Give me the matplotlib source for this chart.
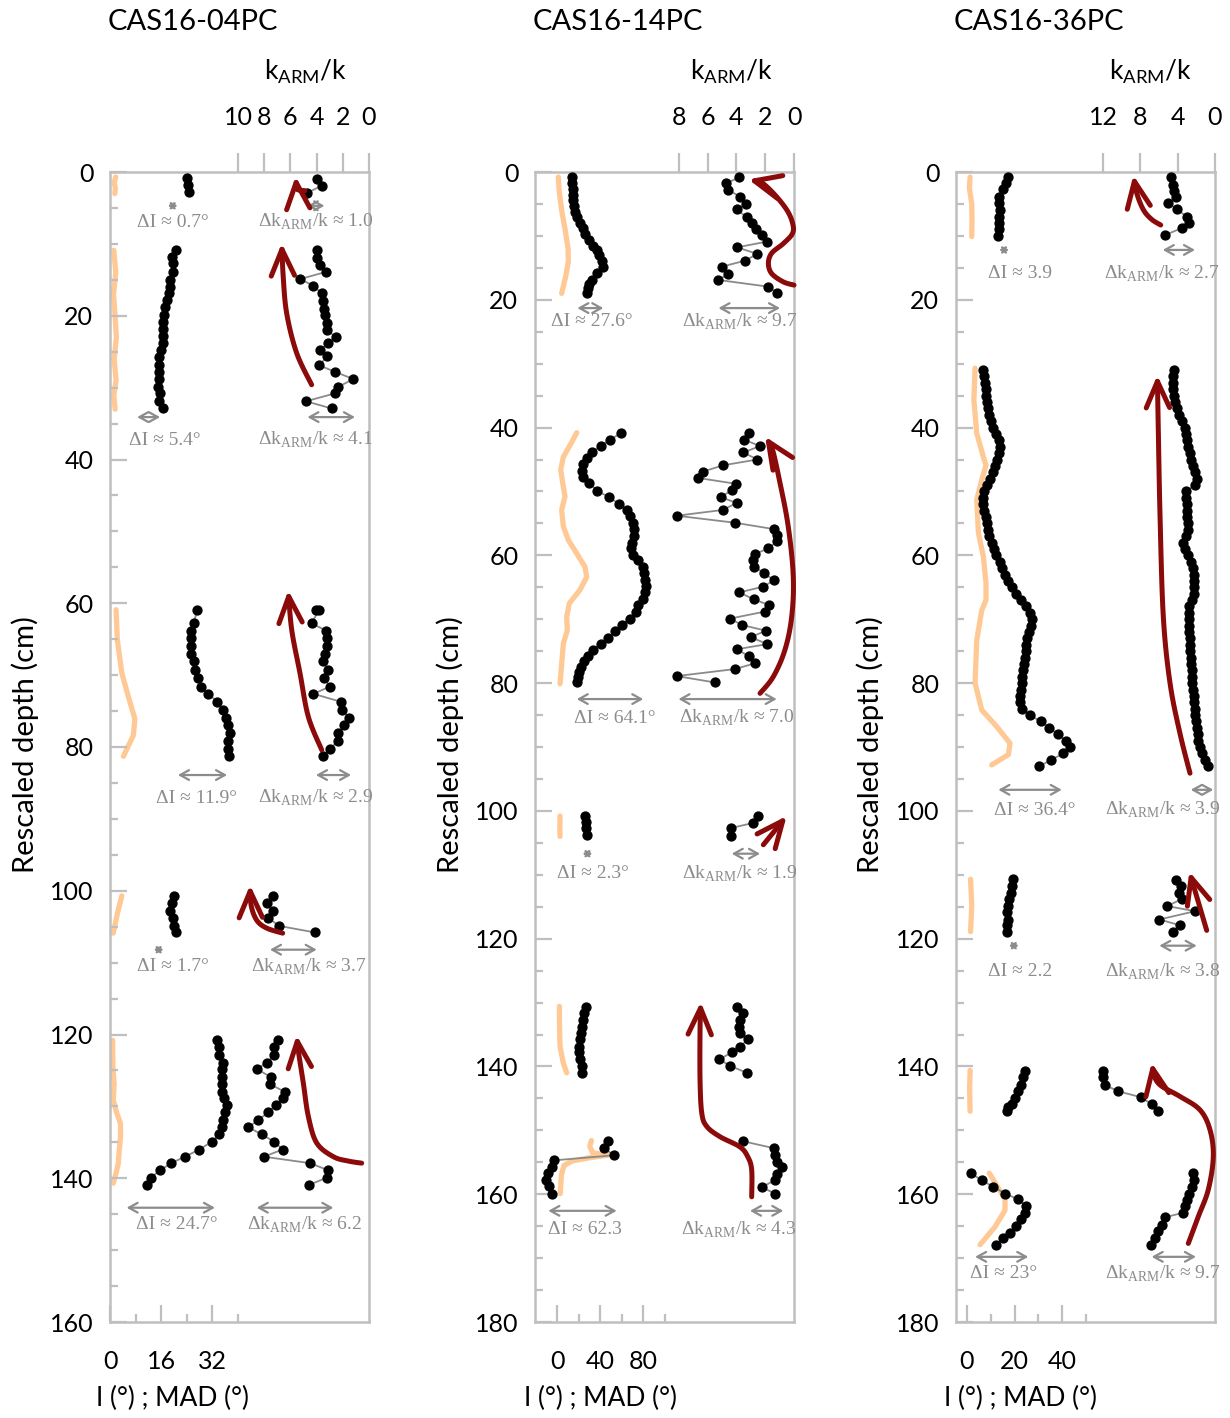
import numpy as np
import matplotlib
matplotlib.use("Agg")
import matplotlib.pyplot as plt
from matplotlib.patches import FancyArrowPatch
from matplotlib.path import Path

plt.rcParams['font.family'] = ['Lato', 'DejaVu Sans']

# ======================= DATA =======================
cores = ["CAS16-04PC", "CAS16-14PC", "CAS16-36PC"]

# ---------- CAS16-04PC ----------
c04_s1_d = [0.8, 1.8, 2.8]
c04_s1_inc = [24.1, 24.5, 24.8]
c04_s1_kd = [1.0, 1.9, 2.9]
c04_s1_k = [4.0, 3.6, 4.7]
c04_s1_madd = [0.7, 1.5, 2.3, 3.0]
c04_s1_mad = [1.8, 1.3, 1.7, 1.5]

c04_s2_d = [10.9, 11.8, 12.7, 13.9, 15.0, 16.0, 16.9, 17.8, 18.8, 19.9, 20.8, 21.9,
            22.8, 23.8, 24.8, 25.8, 26.9, 27.8, 28.8, 29.9, 30.8, 31.9, 32.9]
c04_s2_inc = [20.6, 19.5, 19.6, 19.9, 18.8, 18.8, 18.5, 18.0, 17.2, 16.9, 16.7, 16.7,
              16.7, 16.5, 16.0, 15.5, 15.4, 15.4, 15.4, 15.2, 15.7, 15.5, 16.5]
c04_s2_kd = [10.9, 11.9, 13.0, 13.9, 14.9, 15.8, 16.9, 17.9, 19.0, 19.9, 21.0, 22.0,
             23.0, 23.8, 24.8, 25.6, 26.9, 27.8, 28.8, 29.9, 30.8, 31.9, 32.9]
c04_s2_k = [4.0, 4.0, 3.74, 3.28, 5.27, 4.25, 3.61, 3.49, 3.41, 3.36, 3.23, 3.18,
            2.54, 3.1, 3.74, 3.18, 3.79, 2.6, 1.2, 2.34, 2.6, 4.81, 2.85]
c04_s2_madd = [10.9, 14.0, 17.0, 20.0, 23.0, 26.0, 29.0, 31.0, 33.0]
c04_s2_mad = [1.2, 1.8, 1.1, 1.6, 2.0, 1.3, 1.9, 1.2, 1.6]

c04_s3_d = [60.9, 62.8, 63.8, 64.9, 65.9, 67.0, 68.1, 69.3, 70.4, 71.6, 72.6, 73.7,
            74.8, 75.9, 76.9, 78.1, 79.2, 80.3, 81.3]
c04_s3_inc = [27.2, 26.4, 25.3, 25.3, 25.4, 25.4, 26.4, 26.8, 27.5, 28.5, 30.8, 33.6,
              35.3, 36.4, 37.1, 37.6, 37.1, 37.1, 37.4]
c04_s3_kd = [60.9, 61.0, 62.8, 63.8, 64.8, 65.9, 67.0, 68.1, 69.3, 70.4, 71.6, 72.6,
             73.7, 74.8, 75.9, 76.9, 78.1, 79.2, 80.3, 81.3]
c04_s3_k = [4.05, 3.85, 4.38, 3.28, 3.18, 3.23, 3.36, 3.49, 3.1, 3.44, 2.98, 4.25,
            2.16, 2.09, 1.5, 1.88, 2.34, 2.4, 2.98, 3.54]
c04_s3_madd = [60.9, 65.1, 69.7, 72.9, 76.1, 78.4, 81.3]
c04_s3_mad = [1.9, 2.3, 3.7, 5.7, 7.8, 7.3, 4.2]

c04_s4_d = [100.7, 101.7, 102.8, 103.8, 104.9, 105.8]
c04_s4_inc = [20.1, 19.3, 18.8, 19.6, 20.1, 20.7]
c04_s4_k = [7.3, 7.8, 7.35, 7.68, 6.85, 4.12]
c04_s4_madd = [100.7, 103.0, 105.9]
c04_s4_mad = [3.7, 2.4, 1.0]

c04_s5_d = [120.8, 121.8, 122.8, 123.9, 124.8, 125.9, 126.9, 128.0, 128.9, 129.8, 130.8,
            131.9, 132.9, 133.9, 134.9, 136.0, 137.0, 137.9, 138.9, 139.9, 140.9]
c04_s5_inc = [33.6, 34.3, 34.3, 35.3, 35.1, 35.1, 35.1, 35.1, 35.7, 36.6, 36.1,
              35.3, 35.0, 34.2, 32.0, 28.0, 23.5, 19.2, 15.7, 12.8, 11.5]
c04_s5_k = [6.97, 7.25, 7.25, 7.76, 8.57, 7.51, 7.56, 6.41, 6.59, 7.1, 7.68,
            8.45, 9.21, 8.19, 7.25, 6.59, 8.02, 4.5, 3.1, 3.18, 4.55]
c04_s5_madd = [120.8, 124.5, 127.0, 129.1, 130.9, 132.4, 134.2, 136.1, 137.9, 139.3, 140.7]
c04_s5_mad = [0.83, 0.9, 1.3, 1.0, 2.1, 3.3, 3.3, 2.9, 2.6, 1.9, 1.0]

# ---------- CAS16-14PC ----------
c14_s1_d = [0.83, 1.77, 2.71, 3.6, 4.38, 5.32, 6.21, 7.1, 8.04, 8.82, 9.7, 10.64,
            11.53, 12.2, 13.0, 13.88, 14.82, 15.86, 16.9, 17.58, 18.2, 18.89]
c14_s1_inc = [13.6, 13.6, 14.6, 14.6, 15.2, 15.8, 16.7, 18.9, 21.4, 23.9, 26.0, 30.1,
              33.8, 36.9, 39.4, 41.6, 43.1, 37.4, 33.0, 30.1, 29.0, 27.6]
c14_s1_kd = [0.83, 1.77, 2.82, 3.86, 5.0, 5.84, 7.1, 8.04, 8.98, 9.86, 10.9, 11.79,
             12.83, 13.88, 14.82, 15.96, 16.9, 17.95, 18.89]
c14_s1_k = [3.8, 4.72, 4.56, 3.75, 3.33, 3.98, 3.29, 2.94, 2.64, 2.24, 1.9, 3.94,
            2.55, 3.4, 5.02, 4.56, 5.25, 1.78, 1.2]
c14_s1_madd = [0.8, 3.0, 6.0, 9.0, 12.0, 14.0, 16.0, 19.0]
c14_s1_mad = [1.2, 2.0, 4.3, 7.5, 10.3, 10.5, 8.5, 4.3]

c14_s2_d = [40.9, 41.9, 42.9, 43.9, 44.8, 45.7, 46.8, 47.8, 48.7, 49.9, 50.9, 52.0,
            52.9, 53.8, 54.9, 55.9, 57.0, 58.0, 58.9, 59.9, 60.8, 61.8, 62.8, 63.9,
            64.8, 65.8, 66.9, 67.8, 68.8, 69.9, 70.9, 71.9, 72.9, 73.9, 74.8, 75.8,
            76.6, 77.5, 78.3, 79.0, 79.9]
c14_s2_inc = [59.2, 49.3, 40.6, 32.2, 27.6, 24.5, 22.9, 24.5, 30.1, 37.5, 48.4, 58.0,
              64.8, 67.9, 70.4, 71.6, 71.9, 69.5, 68.8, 71.0, 75.0, 80.3, 80.9, 81.9,
              82.8, 81.9, 80.3, 75.6, 73.5, 67.9, 60.2, 54.0, 47.1, 40.6, 33.2, 29.1,
              25.4, 22.0, 20.8, 19.8, 18.3]
c14_s2_kd = [40.8, 41.9, 42.9, 43.9, 45.0, 45.9, 46.9, 47.9, 48.8, 49.8, 50.9, 51.8,
             52.9, 53.8, 54.9, 55.9, 56.8, 57.8, 58.9, 59.8, 60.8, 61.8, 62.8, 63.9,
             64.9, 65.8, 66.9, 67.8, 68.8, 69.9, 70.9, 71.8, 72.8, 73.9, 74.7, 75.8,
             76.9, 77.8, 78.9, 79.9]
c14_s2_k = [3.13, 3.47, 2.36, 3.52, 2.55, 4.91, 6.34, 6.64, 4.03, 4.33, 5.09, 3.98,
            4.95, 8.15, 4.1, 1.39, 1.16, 1.16, 1.78, 2.71, 2.87, 2.78, 2.08, 1.39,
            2.13, 3.8, 2.78, 1.71, 2.01, 4.44, 3.63, 1.94, 3.01, 1.85, 3.98, 3.13,
            2.71, 4.1, 8.15, 5.49]
c14_s2_madd = [40.8, 42.5, 44.6, 46.6, 48.7, 50.8, 52.9, 55.5, 57.6, 59.7, 61.8, 63.4,
               65.4, 67.5, 69.6, 71.7, 73.8, 77.0, 80.1]
c14_s2_mad = [18.3, 13.0, 5.9, 3.4, 5.3, 7.4, 4.3, 5.9, 10.5, 18.3, 26.0, 27.6,
              21.4, 11.5, 9.0, 9.6, 5.9, 4.3, 2.8]

c14_s3_d = [100.8, 101.7, 102.7, 103.8]
c14_s3_inc = [26.0, 27.0, 27.0, 28.2]
c14_s3_kd = [100.8, 101.9, 102.7, 103.9]
c14_s3_k = [2.48, 2.87, 4.4, 4.4]
c14_s3_madd = [100.8, 102.4, 104.0]
c14_s3_mad = [2.8, 2.6, 2.8]

c14_s4_d = [130.7, 131.7, 132.7, 133.8, 134.8, 135.7, 136.9, 137.8, 138.9, 139.9, 141.0]
c14_s4_inc = [27.0, 25.1, 23.9, 22.9, 22.0, 21.4, 20.8, 20.8, 21.4, 22.9, 22.9]
c14_s4_k = [3.94, 3.52, 3.75, 3.8, 3.75, 3.17, 3.75, 4.33, 5.19, 4.44, 3.29]
c14_s4_madd = [130.6, 133.5, 136.9, 139.5, 141.0]
c14_s4_mad = [2.2, 2.3, 2.8, 5.9, 9.0]

c14_s5_d = [151.7, 152.8, 153.9, 154.7, 155.7, 156.6, 157.7, 158.7, 159.9]
c14_s5_inc = [47.8, 43.7, 53.0, -2.8, -5.0, -8.1, -10.2, -7.1, -5.0]
c14_s5_kd = [151.7, 152.8, 153.9, 154.9, 155.8, 156.8, 157.8, 158.9, 159.9]
c14_s5_k = [3.56, 1.39, 1.32, 1.2, 0.86, 1.2, 1.32, 2.24, 1.32]
c14_s5_madd = [151.6, 152.5, 153.5, 153.9, 154.3, 154.8, 155.5, 157.0, 159.9]
c14_s5_mad = [32.0, 30.5, 33.0, 47.0, 30.0, 14.0, 6.5, 4.0, 3.0]

# ---------- CAS16-36PC ----------
c36_s1_d = [0.83, 1.77, 2.71, 3.86, 4.9, 5.95, 7.0, 7.93, 8.98, 10.0]
c36_s1_inc = [17.4, 16.4, 15.0, 13.6, 13.6, 13.9, 13.6, 13.6, 13.6, 13.2]
c36_s1_kd = [0.83, 2.0, 2.9, 3.96, 4.9, 5.84, 7.0, 7.93, 8.8, 9.86]
c36_s1_k = [4.75, 4.54, 4.39, 4.18, 5.0, 4.04, 3.04, 2.75, 3.57, 5.36]
c36_s1_madd = [0.8, 2.5, 5.0, 7.5, 10.1]
c36_s1_mad = [1.3, 1.0, 2.0, 2.1, 2.0]

c36_s2_d = [31, 32, 33, 34, 35, 36, 37, 38, 39, 40, 41, 42, 43, 44, 45, 46, 47, 48,
            49, 50, 51, 52, 53, 54, 55, 56, 57, 58, 59, 60, 61, 62, 63, 64, 65, 66,
            67, 68, 69, 70, 71, 72, 73, 74, 75, 76, 77, 78, 79, 80, 81, 82, 83, 84,
            85, 86, 87, 88, 89, 90, 91, 92, 93]
c36_s2_inc = [6.9, 7.2, 7.5, 7.8, 8.1, 8.4, 8.8, 9.3, 10.2, 11.0,
              12.4, 13.6, 13.9, 13.5, 12.6, 11.6, 10.9, 9.6, 8.4, 7.2,
              6.9, 6.9, 7.3, 7.8, 8.3, 8.9, 9.4, 10.4, 11.4, 12.4,
              13.8, 14.9, 16.0, 17.4, 19.0, 20.6, 22.8, 24.8, 26.5, 27.2,
              26.8, 26.1, 25.4, 25.0, 24.7, 24.3, 24.0, 23.6, 23.3, 23.0,
              22.7, 22.4, 22.3, 23.0, 26.5, 31.0, 34.5, 38.5, 41.5, 43.4,
              40.6, 35.5, 30.5]
c36_s2_k = [4.39, 4.45, 4.5, 4.45, 4.4, 4.3, 4.1, 3.85, 3.5, 3.2,
            3.1, 3.0, 2.85, 2.7, 2.55, 2.35, 2.1, 1.96, 2.14, 3.11,
            3.1, 3.05, 3.04, 3.0, 2.9, 2.9, 3.1, 3.39, 3.25, 2.9,
            2.6, 2.4, 2.3, 2.2, 2.25, 2.3, 2.5, 2.75, 2.75, 2.75,
            2.75, 2.75, 2.72, 2.7, 2.68, 2.6, 2.55, 2.5, 2.45, 2.42,
            2.39, 2.3, 2.2, 2.14, 2.1, 2.0, 1.95, 1.85, 1.79, 1.65,
            1.4, 1.1, 0.7]
c36_s2_madd = [30.7, 35.7, 40.9, 44.6, 45.9, 48.2, 51.3, 56.5, 60.2, 64.4, 67.0, 68.6,
               73.3, 80.0, 84.2, 86.8, 89.4, 91.2, 92.8]
c36_s2_mad = [3.4, 2.9, 4.1, 6.9, 8.0, 6.2, 4.1, 4.8, 6.9, 8.0, 8.0, 6.2,
              4.1, 3.4, 6.2, 12.5, 18.1, 17.4, 10.4]

c36_s3_d = [110.7, 111.8, 112.8, 113.8, 114.9, 115.9, 117.0, 117.9, 118.9]
c36_s3_inc = [19.2, 18.8, 18.4, 17.8, 17.4, 17.0, 17.4, 17.0, 17.0]
c36_s3_kd = [110.8, 111.8, 112.8, 113.8, 114.9, 115.7, 117.0, 117.9, 118.9]
c36_s3_k = [4.18, 3.68, 3.82, 3.57, 5.11, 2.14, 5.97, 3.75, 4.54]
c36_s3_madd = [110.7, 114.8, 118.9]
c36_s3_mad = [1.5, 2.0, 1.5]

c36_s4_d = [140.7, 141.7, 142.9, 143.9, 145.0, 145.8, 146.3, 146.9]
c36_s4_inc = [24.4, 23.7, 22.6, 21.6, 20.2, 18.8, 17.4, 16.7]
c36_s4_kd = [140.7, 141.7, 142.9, 143.9, 144.8, 145.9, 146.9]
c36_s4_k = [11.97, 11.97, 11.79, 10.36, 7.97, 6.79, 6.07]
c36_s4_madd = [140.6, 143.5, 147.0]
c36_s4_mad = [1.3, 1.1, 1.3]

c36_s5_d = [156.7, 157.8, 158.8, 159.9, 160.8, 161.8, 162.9, 163.9, 165.0, 166.0, 166.9, 167.9]
c36_s5_inc = [1.5, 6.2, 10.8, 16.0, 21.6, 24.8, 24.4, 22.6, 20.6, 18.1, 15.3, 12.2]
c36_s5_kd = [156.6, 157.8, 158.8, 159.9, 160.9, 161.8, 162.9, 163.6, 164.8, 165.7, 166.8, 167.9]
c36_s5_k = [2.39, 2.25, 2.5, 2.75, 2.97, 3.22, 3.39, 5.36, 5.71, 6.07, 6.43, 6.86]
c36_s5_madd = [156.7, 160.8, 162.5, 165.1, 167.9]
c36_s5_mad = [9.4, 16.0, 16.0, 11.8, 5.5]

# annotation values (text)
c04_dI = ["0.7°", "5.4°", "11.9°", "1.7°", "24.7°"]
c04_dk = ["1.0", "4.1", "2.9", "3.7", "6.2"]
c14_dI = ["27.6°", "64.1°", "2.3°", "62.3"]
c14_dk = ["9.7", "7.0", "1.9", "4.3"]
c36_dI = ["3.9", "36.4°", "2.2", "23°"]
c36_dk = ["2.7", "3.9", "3.8", "9.7"]

# ======================= LAYOUT / STYLE =======================
GREY_AX = '#bfbfbf'
GREY_TX = '#8c8c8c'
ORANGE = '#FFC995'
RED = '#8B0A0A'
SERIF = ['Liberation Serif', 'DejaVu Serif']
W, H = 1230, 1418

fig = plt.figure(figsize=(W / 100, H / 100), dpi=100)

panels = [
    dict(left=110, dmax=160, xlim=(0, 81.2), xt=[0, 16, 32], xm=[8, 24, 40],
         klim=19.77, kt=[10, 8, 6, 4, 2, 0], yl_x=25, xl_x=173, kl_x=305),
    dict(left=535, dmax=180, xlim=(-20.5, 220.5), xt=[0, 40, 80], xm=[20, 60, 100],
         klim=18.0, kt=[8, 6, 4, 2, 0], yl_x=450, xl_x=600, kl_x=731),
    dict(left=956, dmax=180, xlim=(-4.63, 104.4), xt=[0, 20, 40], xm=[10, 30, 50],
         klim=27.76, kt=[12, 8, 4, 0], yl_x=870, xl_x=1020, kl_x=1150),
]

# series per core: (inc_depth, inc, k_depth, k, mad_depth, mad)
series = [
    [(c04_s1_d, c04_s1_inc, c04_s1_kd, c04_s1_k, c04_s1_madd, c04_s1_mad),
     (c04_s2_d, c04_s2_inc, c04_s2_kd, c04_s2_k, c04_s2_madd, c04_s2_mad),
     (c04_s3_d, c04_s3_inc, c04_s3_kd, c04_s3_k, c04_s3_madd, c04_s3_mad),
     (c04_s4_d, c04_s4_inc, c04_s4_d, c04_s4_k, c04_s4_madd, c04_s4_mad),
     (c04_s5_d, c04_s5_inc, c04_s5_d, c04_s5_k, c04_s5_madd, c04_s5_mad)],
    [(c14_s1_d, c14_s1_inc, c14_s1_kd, c14_s1_k, c14_s1_madd, c14_s1_mad),
     (c14_s2_d, c14_s2_inc, c14_s2_kd, c14_s2_k, c14_s2_madd, c14_s2_mad),
     (c14_s3_d, c14_s3_inc, c14_s3_kd, c14_s3_k, c14_s3_madd, c14_s3_mad),
     (c14_s4_d, c14_s4_inc, c14_s4_d, c14_s4_k, c14_s4_madd, c14_s4_mad),
     (c14_s5_d, c14_s5_inc, c14_s5_kd, c14_s5_k, c14_s5_madd, c14_s5_mad)],
    [(c36_s1_d, c36_s1_inc, c36_s1_kd, c36_s1_k, c36_s1_madd, c36_s1_mad),
     (c36_s2_d, c36_s2_inc, c36_s2_d, c36_s2_k, c36_s2_madd, c36_s2_mad),
     (c36_s3_d, c36_s3_inc, c36_s3_kd, c36_s3_k, c36_s3_madd, c36_s3_mad),
     (c36_s4_d, c36_s4_inc, c36_s4_kd, c36_s4_k, c36_s4_madd, c36_s4_mad),
     (c36_s5_d, c36_s5_inc, c36_s5_kd, c36_s5_k, c36_s5_madd, c36_s5_mad)],
]

# annotation positions: (I arrow x1, x2, arrow depth, I text x, text depth, k arrow x1, x2, k text x)
annot_pos = [
    [(19.2, 20.1, 4.7, 19.7, 7.0, 4.7, 3.4, 4.1),
     (8.5, 15.7, 34.1, 17.2, 37.3, 4.7, 1.07, 4.1),
     (21.3, 36.7, 83.9, 27.2, 87.1, 4.05, 1.37, 4.1),
     (14.2, 16.3, 108.2, 19.6, 110.6, 7.56, 3.99, 4.58),
     (5.2, 32.9, 144.1, 20.9, 146.5, 8.57, 2.72, 4.89)],
    [(18.9, 43.1, 21.3, 32.2, 23.4, 5.25, 0.97, 3.75),
     (18.3, 80.3, 82.5, 54.0, 85.5, 8.03, 1.2, 3.98),
     (27.0, 29.6, 106.7, 33.8, 109.8, 4.33, 2.36, 3.75),
     (-8.1, 55.5, 162.6, 26.0, 165.6, 3.06, 0.74, 3.87)],
    [(13.6, 17.6, 12.2, 22.3, 15.9, 5.6, 2.14, 5.7),
     (13.2, 39.9, 96.7, 28.6, 99.9, 2.6, 0.18, 5.6),
     (18.7, 20.7, 121.1, 22.3, 125.2, 5.97, 1.96, 5.6),
     (3.4, 25.8, 169.8, 15.3, 172.4, 6.79, 2.04, 5.6)],
]
annot_txt = [(c04_dI, c04_dk), (c14_dI, c14_dk), (c36_dI, c36_dk)]

# red trend arrows: control points (kARM/k, depth)
red_arrows = [
    [[(4.9, 2.6), (5.5, 2.4), (5.4, 1.6), (5.0, 1.2), (5.6, 0.6)],
     [(4.38, 29.6), (5.52, 25.2), (6.28, 19.7), (6.55, 14.5), (6.66, 9.9)],
     [(3.61, 80.4), (4.63, 75.8), (5.27, 69.7), (5.9, 63.7), (6.16, 58.2)],
     [(6.59, 105.9), (7.81, 105.2), (8.57, 104.1), (9.0, 102.0), (9.08, 99.2)],
     [(0.56, 137.9), (1.6, 137.6), (2.72, 137.0), (3.99, 135.1), (4.63, 131.4),
      (5.01, 126.8), (5.4, 122.2), (5.52, 120.1)]],
    [[(0.0, 17.7), (0.74, 17.2), (1.55, 15.9), (1.78, 14.3), (1.55, 12.7), (0.74, 11.2),
      (0.1, 9.6), (0.1, 8.0), (0.51, 5.9), (1.44, 3.3), (2.36, 1.5), (3.17, 1.15)],
     [(2.36, 81.6), (1.44, 79.0), (0.63, 74.8), (0.16, 69.6), (0.05, 63.3), (0.4, 55.5),
      (0.97, 48.7), (1.55, 43.0), (2.01, 41.4)],
     [(2.13, 105.3), (0.51, 100.8)],
     [(2.94, 160.4), (2.94, 156.2), (3.2, 154.2), (3.75, 152.6), (5.14, 151.0),
      (6.06, 149.4), (6.41, 147.3), (6.53, 142.1), (6.53, 134.3), (6.48, 129.9)]],
    [[(5.82, 8.3), (6.8, 7.4), (7.68, 5.9), (8.39, 3.3), (8.75, 0.5)],
     [(2.68, 94.1), (3.75, 87.9), (4.82, 80.0), (5.54, 69.6), (5.89, 53.9),
      (6.07, 40.9), (6.18, 31.8)],
     [(0.89, 118.7), (2.75, 109.5)],
     [(2.86, 167.7), (1.79, 163.5), (0.72, 159.3), (0.18, 154.1), (0.54, 149.9),
      (1.61, 146.8), (3.75, 144.7), (5.89, 142.9), (6.61, 141.1), (6.79, 139.4)]],
]


def catmull(P, n=10):
    P = np.asarray(P, float)
    if len(P) < 3:
        return P
    Q = np.vstack([P[0], P, P[-1]])
    out = []
    for i in range(1, len(Q) - 2):
        p0, p1, p2, p3 = Q[i - 1], Q[i], Q[i + 1], Q[i + 2]
        for t in np.linspace(0, 1, n, endpoint=False):
            t2, t3 = t * t, t * t * t
            out.append(0.5 * (2 * p1 + (-p0 + p2) * t + (2 * p0 - 5 * p1 + 4 * p2 - p3) * t2
                              + (-p0 + 3 * p1 - 3 * p2 + p3) * t3))
    out.append(P[-1])
    return np.array(out)


def draw_red_arrow(axx, pts):
    disp = axx.transData.transform(np.asarray(pts, float))
    sm = list(catmull(disp, 8))
    while len(sm) > 2 and np.hypot(*(sm[-2] - sm[-1])) < 12:
        del sm[-2]
    data = axx.transData.inverted().transform(np.array(sm))
    p = FancyArrowPatch(path=Path(data), arrowstyle='->,head_length=0.95,head_width=0.42',
                        mutation_scale=20, lw=3.6, color=RED, capstyle='round',
                        joinstyle='round', zorder=5, clip_on=False)
    axx.add_patch(p)


def dbl_arrow(axx, x1, x2, d):
    a = axx.transData.transform([(x1, d), (x2, d)])
    wpx = abs(a[1, 0] - a[0, 0])
    if wpx < 10:
        # very short spans: draw a small symmetric double arrow around the centre
        c = 0.5 * (a[0] + a[1])
        a = np.array([c - (5, 0), c + (5, 0)])
        x1, x2 = axx.transData.inverted().transform(a)[:, 0]
        wpx = 10
    ms = min(14.0, max(6.5, 0.75 * wpx))
    axx.annotate('', xy=(x2, d), xytext=(x1, d),
                 arrowprops=dict(arrowstyle='<->,head_length=0.45,head_width=0.25',
                                 mutation_scale=ms, color=GREY_TX, lw=1.6,
                                 shrinkA=0, shrinkB=0),
                 annotation_clip=False)


for ci, cfg in enumerate(panels):
    ax = fig.add_axes([cfg['left'] / W, 1 - 1322 / H, 259 / W, 1150 / H])
    ax.set_ylim(cfg['dmax'], 0)
    ax.set_xlim(*cfg['xlim'])
    ax2 = ax.twiny()
    ax2.set_xlim(cfg['klim'], 0)
    ax2.set_ylim(cfg['dmax'], 0)

    for sp in ax.spines.values():
        sp.set_color(GREY_AX)
        sp.set_linewidth(1.8)
    for sp in ax2.spines.values():
        sp.set_visible(False)

    ax.set_yticks(np.arange(0, cfg['dmax'] + 1, 20))
    ax.set_yticks(np.arange(0, cfg['dmax'] + 1, 5), minor=True)
    ax.set_xticks(cfg['xt'])
    ax.set_xticks(cfg['xm'], minor=True)
    ax.tick_params(axis='both', which='major', direction='in', length=12, width=1.6,
                   color=GREY_AX, labelsize=18, top=False, right=False)
    ax.tick_params(axis='both', which='minor', direction='in', length=6, width=1.6,
                   color=GREY_AX, top=False, right=False)
    ax.tick_params(axis='y', which='major', pad=12)
    ax.tick_params(axis='x', which='major', pad=20)

    ax2.set_xticks(cfg['kt'])
    ax2.xaxis.set_minor_locator(matplotlib.ticker.NullLocator())
    ax2.tick_params(axis='x', which='major', direction='out', length=14, width=1.6,
                    color=GREY_AX, labelsize=18, pad=17)
    ax2.tick_params(axis='y', left=False, right=False, labelleft=False, labelright=False)

    # data
    for (idp, inc, kdp, kv, mdp, mad) in series[ci]:
        ax.plot(mad, mdp, color=ORANGE, lw=3.8, solid_capstyle='round',
                solid_joinstyle='round', zorder=1)
        ax.plot(inc, idp, '-', color='#8a8a8a', lw=1.3, zorder=2)
        ax.plot(inc, idp, 'o', color='black', ms=6.4, zorder=3)
        ax2.plot(kv, kdp, '-', color='#8a8a8a', lw=1.3, zorder=2)
        ax2.plot(kv, kdp, 'o', color='black', ms=6.4, zorder=3)

    for pts in red_arrows[ci]:
        draw_red_arrow(ax2, pts)

    dIs, dks = annot_txt[ci]
    for (ia, ib, da, itx, dt, ka, kb, ktx), sI, sk in zip(annot_pos[ci], dIs, dks):
        dbl_arrow(ax, ia, ib, da)
        ax.text(itx, dt, 'ΔI ≈ ' + sI, ha='center', va='center', color=GREY_TX,
                fontsize=14, family=SERIF, clip_on=False)
        dbl_arrow(ax2, ka, kb, da)
        ax2.text(ktx, dt, r'Δk$_\mathregular{ARM}$/k ≈ ' + sk, ha='center', va='center',
                 color=GREY_TX, fontsize=14, family=SERIF, clip_on=False)

    # labels
    fig.text((cfg['left'] - 2) / W, 1 - 22 / H, cores[ci], ha='left', va='center', fontsize=21)
    fig.text(cfg['kl_x'] / W, 1 - 72 / H, r'k$_\mathregular{ARM}$/k', ha='center',
             va='center', fontsize=19)
    fig.text(cfg['yl_x'] / W, 1 - 745 / H, 'Rescaled depth (cm)', rotation=90,
             ha='center', va='center', fontsize=21)
    fig.text(cfg['xl_x'] / W, 1 - 1398 / H, 'I (°) ; MAD (°)', ha='center',
             va='center', fontsize=19)

fig.savefig('out.png', dpi=100)
